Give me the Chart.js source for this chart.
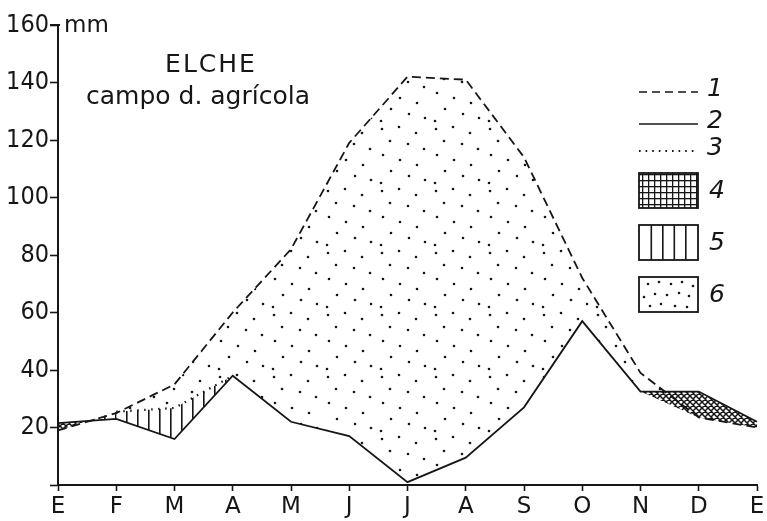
<!DOCTYPE html>
<html lang="es">
<head>
    <meta charset="UTF-8">
    <title>Elche - campo d. agrícola</title>
    <script src="https://cdn.jsdelivr.net/npm/chart.js"></script>
    <style>
        html, body {
            margin: 0;
            padding: 0;
            background: #fff;
        }
        #wrap {
            width: 767px;
            height: 521px;
        }
    </style>
</head>
<body>
    <div id="wrap">
        <canvas id="balance" width="767" height="521"></canvas>
    </div>

    <script>
        // months, E (enero) to E
        const months = ['E', 'F', 'M', 'A', 'M', 'J', 'J', 'A', 'S', 'O', 'N', 'D', 'E'];
        // 1 - potential evapotranspiration (dashed)
        const evapPot = [19, 25, 35, 60, 82, 119, 142, 141, 114, 72, 39, 23.5, 20];
        // 2 - precipitation (solid)
        const precip = [21.5, 23, 16, 38, 22, 17, 1, 9.5, 27, 57, 32.5, 32.5, 22];
        // 3 - actual evapotranspiration (dotted)
        const evapReal = [19, 25.5, 26.8, 38, 22, 17, 1, 9.5, 27, 57, 32.5, 23.5, 20];
        const yTicks = [0, 20, 40, 60, 80, 100, 120, 140, 160];

        const INK = '#161616';
        const canvas = document.getElementById('balance');
        const ctx = canvas.getContext('2d');

        function makePattern(w, h, draw) {
            const c = document.createElement('canvas');
            c.width = w;
            c.height = h;
            const g = c.getContext('2d');
            draw(g);
            return ctx.createPattern(c, 'repeat');
        }

        // 6 - scattered dots
        const dotSpots = [[4, 5], [21, 3], [38, 9], [12, 17], [30, 20], [46, 25], [5, 31],
                          [22, 36], [39, 41], [13, 47], [31, 52], [47, 56], [3, 59]];
        const dots = makePattern(54, 62, g => {
            g.fillStyle = INK;
            dotSpots.forEach(([x, y]) => {
                g.beginPath();
                g.arc(x, y, 1.3, 0, Math.PI * 2);
                g.fill();
            });
        });

        // 5 - vertical lines
        const vlines = makePattern(11, 10, g => {
            g.fillStyle = INK;
            g.fillRect(5, 0, 1.6, 10);
        });

        // 4 - cross hatch (diagonal in the plot)
        const cross = makePattern(6, 6, g => {
            g.strokeStyle = INK;
            g.lineWidth = 1.5;
            g.beginPath();
            g.moveTo(0, 0); g.lineTo(6, 6);
            g.moveTo(6, 0); g.lineTo(0, 6);
            g.moveTo(-3, 3); g.lineTo(3, -3);
            g.moveTo(3, 9); g.lineTo(9, 3);
            g.stroke();
        });

        // 4 - square grid for the legend box
        const grid = makePattern(6, 6, g => {
            g.fillStyle = INK;
            g.fillRect(0, 0, 6, 1.3);
            g.fillRect(0, 0, 1.3, 6);
        });

        // dots inside legend box 6 (offsets within the box)
        const legendDots = [[9, 7], [20, 5], [32, 7], [43, 5], [54, 9], [5, 20], [16, 17],
                            [28, 18], [40, 16], [50, 19], [11, 29], [22, 27], [36, 29], [48, 30]];

        const annotations = {
            id: 'annotations',
            afterDraw(chart) {
                const c = chart.ctx;
                const area = chart.chartArea;
                c.save();
                c.fillStyle = INK;
                c.strokeStyle = INK;

                // title
                c.font = '25px "DejaVu Sans"';
                c.textBaseline = 'middle';
                c.textAlign = 'center';
                c.letterSpacing = '2px';
                c.fillText('ELCHE', 211, 65);
                c.letterSpacing = '0px';
                c.fillText('campo d. agrícola', 198, 97);

                // unit
                c.textAlign = 'left';
                c.font = '23px "DejaVu Sans"';
                c.fillText('mm', 64, area.top + 1);
                c.lineWidth = 2;
                c.beginPath();
                c.moveTo(area.left - 8, area.top);
                c.lineTo(area.left + 2, area.top);
                c.stroke();

                // legend
                const lx = 639, lw = 59, tx = 707;
                c.font = 'italic 25px "DejaVu Sans"';

                c.lineWidth = 1.6;
                c.setLineDash([8, 5]);
                c.beginPath(); c.moveTo(lx, 92); c.lineTo(lx + lw, 92); c.stroke();
                c.setLineDash([]);
                c.beginPath(); c.moveTo(lx, 124); c.lineTo(lx + lw, 124); c.stroke();
                c.setLineDash([1.6, 5]);
                c.lineWidth = 2;
                c.beginPath(); c.moveTo(lx, 151); c.lineTo(lx + lw - 2, 151); c.stroke();
                c.setLineDash([]);
                c.fillText('1', tx, 89);
                c.fillText('2', tx, 121);
                c.fillText('3', tx, 148);

                const boxes = [[173, 'grid', '4'], [225, 'lines', '5'], [277, 'dots', '6']];
                c.lineWidth = 1.8;
                boxes.forEach(([y, kind, label]) => {
                    const h = 35;
                    c.fillStyle = INK;
                    if (kind === 'grid') {
                        c.fillStyle = grid;
                        c.fillRect(lx, y, lw, h);
                    } else if (kind === 'lines') {
                        for (let x = lx + 11.5; x < lx + lw - 3; x += 11.5) {
                            c.fillRect(x, y, 1.6, h);
                        }
                    } else {
                        legendDots.forEach(([dx, dy]) => {
                            c.beginPath();
                            c.arc(lx + dx, y + dy, 1.3, 0, Math.PI * 2);
                            c.fill();
                        });
                    }
                    c.strokeRect(lx, y, lw, h);
                    c.fillStyle = INK;
                    c.fillText(label, tx + 2, y + h / 2 + 1);
                });
                c.restore();
            }
        };

        new Chart(ctx, {
            type: 'line',
            data: {
                labels: months,
                datasets: [
                    {
                        label: '1',
                        data: evapPot,
                        borderColor: INK,
                        borderWidth: 1.8,
                        borderDash: [9, 5],
                        pointRadius: 0,
                        tension: 0,
                        fill: { target: 2, above: dots, below: 'transparent' }
                    },
                    {
                        label: '2',
                        data: precip,
                        borderColor: INK,
                        borderWidth: 1.8,
                        pointRadius: 0,
                        tension: 0,
                        fill: false
                    },
                    {
                        label: '3',
                        data: evapReal,
                        borderColor: INK,
                        borderWidth: 2.2,
                        borderDash: [1.5, 5.5],
                        pointRadius: 0,
                        tension: 0,
                        segment: {
                            borderColor: s => (s.p0DataIndex >= 1 && s.p0DataIndex <= 2) ? INK : 'transparent'
                        },
                        fill: { target: 1, above: vlines, below: cross }
                    }
                ]
            },
            options: {
                responsive: false,
                animation: false,
                devicePixelRatio: 1,
                layout: {
                    padding: { top: 25, right: 10, left: 0, bottom: 0 }
                },
                plugins: {
                    legend: { display: false },
                    tooltip: { enabled: false },
                    filler: { propagate: false }
                },
                scales: {
                    x: {
                        offset: false,
                        afterFit(scale) { scale.height = 36; },
                        border: { display: true, color: INK, width: 2 },
                        grid: {
                            drawOnChartArea: false,
                            drawTicks: true,
                            tickLength: 6,
                            tickWidth: 1.6,
                            color: INK
                        },
                        ticks: {
                            color: INK,
                            padding: 2,
                            maxRotation: 0,
                            autoSkip: false,
                            font: { family: '"DejaVu Sans"', size: 23 }
                        }
                    },
                    y: {
                        min: 0,
                        max: 160,
                        afterFit(scale) { scale.width = 58; },
                        afterBuildTicks(scale) {
                            scale.ticks = yTicks.map(v => ({ value: v }));
                        },
                        border: { display: true, color: INK, width: 2 },
                        grid: {
                            drawOnChartArea: false,
                            drawTicks: true,
                            tickLength: 8,
                            tickWidth: 1.6,
                            color: INK
                        },
                        ticks: {
                            color: INK,
                            padding: 1,
                            callback: v => (v === 0 ? '' : String(v)),
                            font: { family: '"Liberation Sans Narrow", "DejaVu Sans Condensed", sans-serif', size: 25 }
                        }
                    }
                }
            },
            plugins: [annotations]
        });
    </script>
</body>
</html>
